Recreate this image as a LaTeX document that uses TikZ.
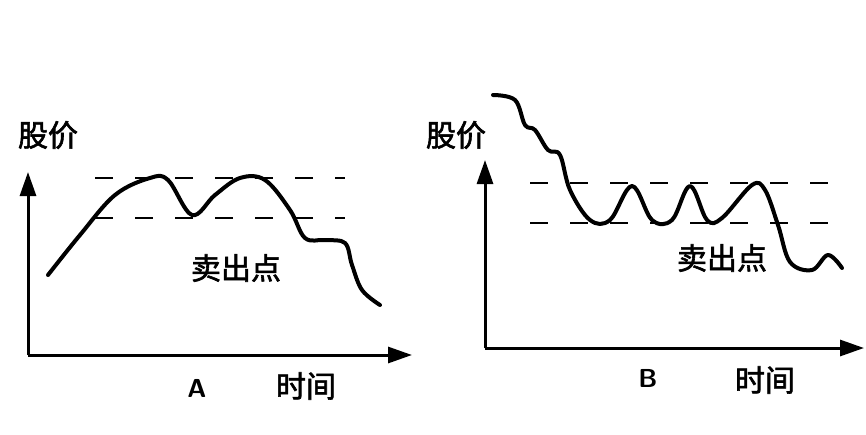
\documentclass[tikz,border=0pt]{standalone}
\usepackage{fontspec}
\newfontfamily\cjk[FakeBold=2]{Noto Sans CJK SC}
\usetikzlibrary{arrows.meta}
\begin{document}
\begin{tikzpicture}[x=1pt,y=-1pt,
  ax/.style={line width=3pt,-{Triangle[length=24pt,width=16pt]}},
  dsh/.style={line width=2pt,dash pattern=on 18pt off 22pt},
  crv/.style={line width=4pt,line cap=round,line join=round},
  lbl/.style={font=\cjk\fontsize{30}{30}\selectfont},
  ltr/.style={font=\sffamily\bfseries\fontsize{26}{26}\selectfont}]
\useasboundingbox[fill=white] (0,0) rectangle (866,434);
% Chart A
\coordinate (ao) at (28,355);
\coordinate (ay) at (28,172);
\coordinate (ax) at (412,355);
\draw[ax] (ao) -- (ay);
\draw[ax] (ao) -- (ax);
\draw[dsh] (95,178) -- (345,178);
\draw[dsh] (95,218) -- (345,218);
\draw[crv] plot[smooth,tension=0.6] coordinates {(48,275) (80,235) (115,195) (150,178) (168,180) (192,215) (215,195) (240,178) (265,180) (290,210) (305,238) (325,240) (345,243) (352,265) (362,290) (380,305)};
\node[lbl] (ap) at (48,135) {股价};
\node[lbl] (as) at (236,268) {卖出点};
\node[ltr] (aa) at (197,388) {A};
\node[lbl] (at) at (306,386) {时间};
% Chart B
\coordinate (bo) at (485,348);
\coordinate (by) at (485,160);
\coordinate (bx) at (864,348);
\draw[ax] (bo) -- (by);
\draw[ax] (bo) -- (bx);
\draw[dsh] (530,183) -- (830,183);
\draw[dsh] (530,223) -- (830,223);
\draw[crv] plot[smooth,tension=0.6] coordinates {(493,95) (515,100) (525,125) (535,130) (548,150) (560,155) (570,190) (590,220) (610,220) (632,186) (652,220) (672,220) (690,186) (707,220) (722,218) (752,185) (765,190) (778,225) (790,262) (812,270) (828,255) (842,268)};
\node[lbl] (bp) at (456,135) {股价};
\node[lbl] (bs) at (722,258) {卖出点};
\node[ltr] (bb) at (648,378) {B};
\node[lbl] (bt) at (765,380) {时间};
\end{tikzpicture}
\end{document}
